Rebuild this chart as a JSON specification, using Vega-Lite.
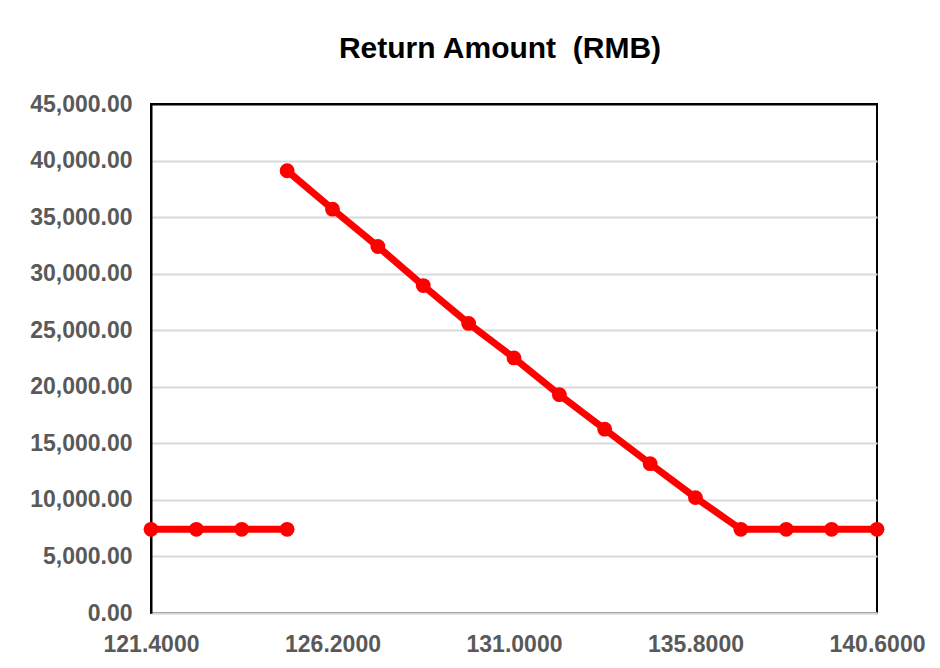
{
  "$schema": "https://vega.github.io/schema/vega-lite/v6.json",
  "autosize": "none",
  "width": 726,
  "height": 509,
  "padding": {"left": 151, "top": 104, "right": 63, "bottom": 55},
  "background": "white",
  "title": {
    "text": "Return Amount\u00a0 (RMB)",
    "font": "Liberation Sans",
    "fontSize": 30,
    "fontWeight": "bold",
    "color": "#000000",
    "anchor": "middle",
    "baseline": "alphabetic",
    "offset": 5,
    "dx": -14
  },
  "config": {
    "font": "Liberation Sans",
    "view": {"stroke": "#000000", "strokeWidth": 2}
  },
  "data": {
    "values": [
      {"price": 121.4, "amount": 7400, "seg": "A"},
      {"price": 122.6, "amount": 7400, "seg": "A"},
      {"price": 123.8, "amount": 7400, "seg": "A"},
      {"price": 125.0, "amount": 7400, "seg": "A"},
      {"price": 125.0, "amount": 39100, "seg": "B"},
      {"price": 126.2, "amount": 35700, "seg": "B"},
      {"price": 127.4, "amount": 32400, "seg": "B"},
      {"price": 128.6, "amount": 28950, "seg": "B"},
      {"price": 129.8, "amount": 25600, "seg": "B"},
      {"price": 131.0, "amount": 22550, "seg": "B"},
      {"price": 132.2, "amount": 19300, "seg": "B"},
      {"price": 133.4, "amount": 16250, "seg": "B"},
      {"price": 134.6, "amount": 13200, "seg": "B"},
      {"price": 135.8, "amount": 10200, "seg": "B"},
      {"price": 137.0, "amount": 7400, "seg": "B"},
      {"price": 138.2, "amount": 7400, "seg": "B"},
      {"price": 139.4, "amount": 7400, "seg": "B"},
      {"price": 140.6, "amount": 7400, "seg": "B"}
    ]
  },
  "mark": {
    "type": "line",
    "color": "#FF0000",
    "strokeWidth": 7,
    "point": {"filled": true, "size": 220, "color": "#FF0000", "opacity": 1}
  },
  "encoding": {
    "x": {
      "field": "price",
      "type": "quantitative",
      "scale": {"domain": [121.4, 140.6], "nice": false, "zero": false},
      "axis": {
        "title": null,
        "values": [121.4, 126.2, 131.0, 135.8, 140.6],
        "format": ".4f",
        "grid": false,
        "ticks": false,
        "domain": true,
        "domainColor": "#d9d9d9",
        "domainWidth": 2,
        "labelFontSize": 23,
        "labelFontWeight": "bold",
        "labelColor": "#595959",
        "labelPadding": 20,
        "labelFlush": false,
        "labelOverlap": false
      }
    },
    "y": {
      "field": "amount",
      "type": "quantitative",
      "scale": {"domain": [0, 45000], "nice": false},
      "axis": {
        "title": null,
        "values": [0, 5000, 10000, 15000, 20000, 25000, 30000, 35000, 40000, 45000],
        "format": ",.2f",
        "grid": true,
        "gridColor": {"condition": {"test": "datum.value >= 45000", "value": "#000000"}, "value": "#d9d9d9"},
        "gridWidth": 2,
        "ticks": false,
        "domain": true,
        "domainColor": "#000000",
        "domainWidth": 2,
        "labelFontSize": 23,
        "labelFontWeight": "bold",
        "labelColor": "#595959",
        "labelPadding": 19,
        "labelOverlap": false,
        "labelFlush": false
      }
    },
    "detail": {"field": "seg"}
  }
}
